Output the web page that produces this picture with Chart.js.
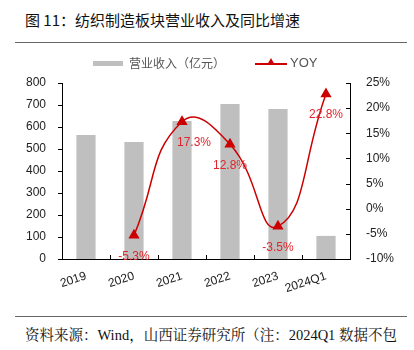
<!DOCTYPE html>
<html lang="zh">
<head>
    <meta charset="UTF-8">
    <title>纺织制造板块营业收入及同比增速</title>
    <script src="https://cdn.jsdelivr.net/npm/chart.js"></script>
    <style>
        body {
            margin: 0;
            width: 414px;
            height: 350px;
            background: #fff;
            position: relative;
            overflow: hidden;
            font-family: "Noto Sans CJK SC", sans-serif;
        }

        #title {
            position: absolute;
            left: 25px;
            top: 9px;
            font-size: 15px;
            color: #111;
        }

        .rule {
            position: absolute;
            left: 15px;
            width: 392px;
            height: 1px;
            background: #666;
        }

        #legend {
            position: absolute;
            top: 54px;
            left: 0;
            width: 414px;
            height: 18px;
            font-size: 12px;
            color: #555;
        }

        .legend-item {
            position: absolute;
            top: 0;
            line-height: 18px;
        }

        .box {
            position: absolute;
            width: 30px;
            height: 5px;
            background: #bfbfbf;
            top: 7px;
        }

        .redline {
            position: absolute;
            width: 32px;
            height: 1.5px;
            background: #cc0000;
            top: 9px;
        }

        .tri {
            position: absolute;
            width: 0;
            height: 0;
            border-left: 4px solid transparent;
            border-right: 4px solid transparent;
            border-bottom: 7px solid #cc0000;
            top: 4px;
        }

        #chart-wrap {
            position: absolute;
            left: 0;
            top: 48px;
            width: 414px;
            height: 250px;
        }

        #footer {
            position: absolute;
            left: 25px;
            top: 323px;
            font-size: 14.5px;
            color: #111;
            font-family: "Liberation Serif", "Noto Serif CJK SC", "Noto Sans CJK SC", serif;
            white-space: nowrap;
        }
    </style>
</head>
<body>

    <div id="title">图 11：纺织制造板块营业收入及同比增速</div>
    <div class="rule" style="top: 42px;"></div>

    <div id="chart-wrap">
        <canvas id="chart"></canvas>
    </div>

    <div id="legend">
        <div class="box" style="left: 93px;"></div>
        <div class="legend-item" style="left: 129px;">营业收入（亿元）</div>
        <div class="redline" style="left: 255px;"></div>
        <div class="tri" style="left: 267px;"></div>
        <div class="legend-item" style="left: 290px; font-family: 'Liberation Sans', Arial, sans-serif; font-size: 13px;">YOY</div>
    </div>

    <div class="rule" style="top: 316px;"></div>
    <div id="footer">资料来源：Wind，山西证券研究所（注：2024Q1 数据不包</div>

    <script>
        const categories = ['2019', '2020', '2021', '2022', '2023', '2024Q1'];
        const revenue = [564, 532, 627, 705, 682, 105];
        const yoy = [null, -5.3, 17.3, 12.8, -3.5, 22.8];
        const leftTicks = [0, 100, 200, 300, 400, 500, 600, 700, 800];
        const rightTicks = [-10, -5, 0, 5, 10, 15, 20, 25];

        const red = '#cc0000';
        const tickFont = { family: "'Liberation Sans', Arial, sans-serif", size: 12 };

        // short tick marks like the original (left outward, right and bottom inward)
        const tickMarks = {
            id: 'tickMarks',
            afterDraw(chart) {
                const ctx = chart.ctx;
                const area = chart.chartArea;
                const y = chart.scales.y;
                const y1 = chart.scales.y1;
                ctx.save();
                ctx.strokeStyle = '#000';
                ctx.lineWidth = 1;
                ctx.beginPath();
                leftTicks.forEach(v => {
                    const py = Math.round(y.getPixelForValue(v)) + 0.5;
                    ctx.moveTo(area.left - 4, py);
                    ctx.lineTo(area.left, py);
                });
                rightTicks.forEach(v => {
                    const py = Math.round(y1.getPixelForValue(v)) + 0.5;
                    ctx.moveTo(area.right - 4, py);
                    ctx.lineTo(area.right, py);
                });
                const step = (area.right - area.left) / categories.length;
                for (let i = 1; i < categories.length; i++) {
                    const px = Math.round(area.left + step * i) + 0.5;
                    ctx.moveTo(px, area.bottom);
                    ctx.lineTo(px, area.bottom - 4);
                }
                ctx.stroke();
                ctx.restore();
            }
        };

        const yoyLabels = {
            id: 'yoyLabels',
            afterDatasetsDraw(chart) {
                const ctx = chart.ctx;
                const meta = chart.getDatasetMeta(0);
                ctx.save();
                ctx.fillStyle = '#e0252b';
                ctx.font = "12px 'Liberation Sans', Arial, sans-serif";
                ctx.textAlign = 'center';
                ctx.textBaseline = 'middle';
                meta.data.forEach((pt, i) => {
                    if (yoy[i] === null) return;
                    const dx = i === 2 ? 12 : 0;
                    ctx.fillText(yoy[i].toFixed(1) + '%', pt.x + dx, pt.y + 21);
                });
                ctx.restore();
            }
        };

        new Chart(document.getElementById('chart'), {
            data: {
                labels: categories,
                datasets: [{
                    type: 'line',
                    label: 'YOY',
                    data: yoy,
                    yAxisID: 'y1',
                    borderColor: red,
                    backgroundColor: red,
                    borderWidth: 1.5,
                    tension: 0.5,
                    pointStyle: 'triangle',
                    pointRadius: 5,
                    pointBackgroundColor: red,
                    pointBorderColor: red,
                    order: 0
                }, {
                    type: 'bar',
                    label: '营业收入（亿元）',
                    data: revenue,
                    yAxisID: 'y',
                    backgroundColor: '#bfbfbf',
                    barPercentage: 0.4,
                    categoryPercentage: 1,
                    order: 1
                }]
            },
            options: {
                responsive: true,
                maintainAspectRatio: false,
                animation: false,
                layout: { padding: { top: 35, left: 0, right: 0, bottom: 0 } },
                plugins: {
                    legend: { display: false },
                    tooltip: { enabled: false }
                },
                scales: {
                    x: {
                        offset: true,
                        grid: { display: false },
                        border: { display: true, color: '#000' },
                        ticks: {
                            color: '#222',
                            font: tickFont,
                            autoSkip: false,
                            minRotation: 18,
                            maxRotation: 18,
                            padding: 2
                        },
                        afterFit(scale) { scale.height = 39; }
                    },
                    y: {
                        position: 'left',
                        min: 0,
                        max: 800,
                        grid: { display: false },
                        border: { display: true, color: '#000' },
                        ticks: {
                            stepSize: 100,
                            color: '#222',
                            font: tickFont,
                            padding: 8
                        },
                        afterFit(scale) { scale.width = 62; }
                    },
                    y1: {
                        position: 'right',
                        min: -10,
                        max: 25,
                        grid: { display: false },
                        border: { display: true, color: '#000' },
                        ticks: {
                            stepSize: 5,
                            color: '#222',
                            font: tickFont,
                            padding: 8,
                            callback: v => v + '%'
                        },
                        afterFit(scale) { scale.width = 64; }
                    }
                }
            },
            plugins: [tickMarks, yoyLabels]
        });
    </script>

</body>
</html>
